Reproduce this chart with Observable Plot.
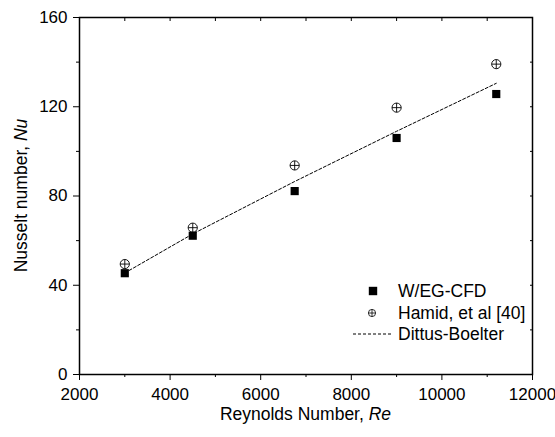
<!DOCTYPE html>
<html>
<head>
<meta charset="utf-8">
<script src="https://cdn.jsdelivr.net/npm/d3@7"></script>
<script src="https://cdn.jsdelivr.net/npm/@observablehq/plot@0.6"></script>
<style>
  html, body { margin: 0; padding: 0; background: #fff; }
  #chart { position: relative; width: 555px; height: 437px; }
</style>
</head>
<body>
<div id="chart"></div>
<script>
// ---- data ----
const reynolds = [3000, 4500, 6750, 9000, 11200];
const nuCFD = [45.4, 62.2, 82.2, 106.0, 125.7];
const nuHamid = [49.5, 65.8, 93.7, 119.6, 139.1];
const nuDittus = [45.5, 63.0, 86.5, 109.0, 130.5];

const xMajorTicks = [2000, 4000, 6000, 8000, 10000, 12000];
const xMinorTicks = [3000, 5000, 7000, 9000, 11000];
const yMajorTicks = [0, 40, 80, 120, 160];
const yMinorTicks = [20, 60, 100, 140];

const seriesNames = ["W/EG-CFD", "Hamid, et al [40]", "Dittus-Boelter"];

const cfd = reynolds.map((re, i) => ({re, nu: nuCFD[i]}));
const hamid = reynolds.map((re, i) => ({re, nu: nuHamid[i]}));
const dittus = reynolds.map((re, i) => ({re, nu: nuDittus[i]}));

const circlePlus = {
  draw(context, size) {
    const r = Math.sqrt(size / Math.PI);
    context.moveTo(r, 0);
    context.arc(0, 0, r, 0, 2 * Math.PI);
    context.moveTo(-r, 0); context.lineTo(r, 0);
    context.moveTo(0, -r); context.lineTo(0, r);
  }
};

const FONT = "'Liberation Sans', Arial, Helvetica, sans-serif";

const chart = Plot.plot({
  width: 555,
  height: 437,
  marginLeft: 79,
  marginRight: 23,
  marginTop: 17,
  marginBottom: 63,
  style: {fontFamily: FONT, fontSize: "17px", color: "black", background: "white"},
  x: {domain: [2000, 12000], label: null},
  y: {domain: [0, 160], label: null},
  marks: [
    // bottom axis
    Plot.axisX({anchor: "bottom", ticks: xMajorTicks, tickSize: 6, tickPadding: 7, fontSize: 17, tickFormat: d => String(d), label: null}),
    Plot.axisX({anchor: "bottom", ticks: xMinorTicks, tickSize: 3, fill: "none", label: null}),
    // top inward ticks
    Plot.axisX({anchor: "top", ticks: [...xMajorTicks, ...xMinorTicks], tickSize: 3, dy: 3, fill: "none", label: null}),
    // left axis
    Plot.axisY({anchor: "left", ticks: yMajorTicks, tickSize: 6, tickPadding: 6, fontSize: 17, tickFormat: d => String(d), label: null}),
    Plot.axisY({anchor: "left", ticks: yMinorTicks, tickSize: 3, fill: "none", label: null}),
    // right inward ticks
    Plot.axisY({anchor: "right", ticks: [...yMajorTicks, ...yMinorTicks], tickSize: 3, dx: -3, fill: "none", label: null}),
    Plot.frame({stroke: "black", strokeWidth: 1.5}),
    Plot.line(dittus, {x: "re", y: "nu", stroke: "black", strokeWidth: 1, strokeDasharray: "3,2"}),
    Plot.dot(hamid, {x: "re", y: "nu", symbol: circlePlus, r: 4.6, stroke: "black", strokeWidth: 0.9, fill: "none"}),
    Plot.dot(cfd, {x: "re", y: "nu", symbol: "square", r: 4.6, fill: "black", stroke: "none"})
  ]
});

document.getElementById("chart").appendChild(chart);

// ---- axis titles with italic parts ----
const svg = d3.select(chart);
const xs = chart.scale("x"), ys = chart.scale("y");
const xMid = (xs.apply(2000) + xs.apply(12000)) / 2;
const yMid = (ys.apply(0) + ys.apply(160)) / 2;

const xt = svg.append("text")
  .attr("x", xMid).attr("y", ys.apply(0) + 46)
  .attr("text-anchor", "middle")
  .attr("font-family", FONT).attr("font-size", 17.5).attr("fill", "black");
xt.append("tspan").text("Reynolds Number, ");
xt.append("tspan").attr("font-style", "italic").text("Re");

const yt = svg.append("text")
  .attr("transform", `translate(${xs.apply(2000) - 52},${yMid}) rotate(-90)`)
  .attr("text-anchor", "middle")
  .attr("font-family", FONT).attr("font-size", 17.5).attr("fill", "black");
yt.append("tspan").text("Nusselt number, ");
yt.append("tspan").attr("font-style", "italic").text("Nu");

// ---- legend ----
const lg = svg.append("g").attr("font-family", FONT).attr("font-size", 17.5)
  .attr("fill", "black").attr("text-anchor", "start");
const rows = [291, 313, 334];
const textX = 398;
// square
lg.append("rect").attr("x", 373 - 4.2).attr("y", rows[0] - 4.2).attr("width", 8.4).attr("height", 8.4).attr("fill", "black");
// circle plus
const cp = d3.path(); circlePlus.draw(cp, Math.PI * 3.6 * 3.6);
lg.append("path").attr("transform", `translate(372,${rows[1]})`).attr("d", cp.toString())
  .attr("fill", "none").attr("stroke", "black").attr("stroke-width", 0.8);
// dashed line
lg.append("line").attr("x1", 353).attr("x2", 393).attr("y1", rows[2]).attr("y2", rows[2])
  .attr("stroke", "black").attr("stroke-width", 1).attr("stroke-dasharray", "3,2");
seriesNames.forEach((name, i) => {
  lg.append("text").attr("x", textX).attr("y", rows[i]).attr("dy", "0.35em")
    .attr("text-anchor", "start").text(name);
});
</script>
</body>
</html>
